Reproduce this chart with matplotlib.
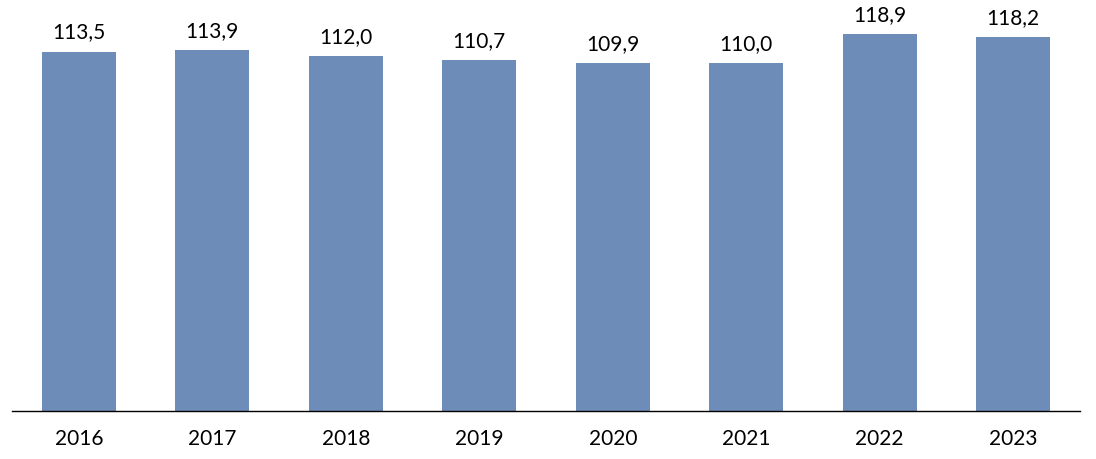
import matplotlib
matplotlib.use("Agg")
import matplotlib.pyplot as plt

years = ["2016", "2017", "2018", "2019", "2020", "2021", "2022", "2023"]
values = [113.5, 113.9, 112.0, 110.7, 109.9, 110.0, 118.9, 118.2]

plt.rcParams['font.family'] = ['Lato', 'DejaVu Sans']

fig = plt.figure(figsize=(10.96, 4.59), dpi=100)
ax = fig.add_axes([12 / 1096, 48 / 459, 1068 / 1096, 380 / 459])

x = list(range(len(years)))
bars = ax.bar(x, values, width=0.555, color="#6E8CB8")
for b, v in zip(bars, values):
    ax.annotate("{:.1f}".format(v).replace(".", ","),
                (b.get_x() + b.get_width() / 2, v),
                xytext=(0, 6.5), textcoords="offset points",
                ha="center", va="bottom", fontsize=15, color="black")

ax.set_xlim(-0.5, len(years) - 0.5)
ax.set_ylim(0, 120)
ax.set_xticks(x)
ax.set_xticklabels(years, fontsize=15)
ax.tick_params(axis="x", length=0, pad=13)
ax.set_yticks([])
for s in ["left", "right", "top"]:
    ax.spines[s].set_visible(False)
ax.spines["bottom"].set_color("black")
ax.spines["bottom"].set_linewidth(1)

fig.savefig("out.png", dpi=100)
